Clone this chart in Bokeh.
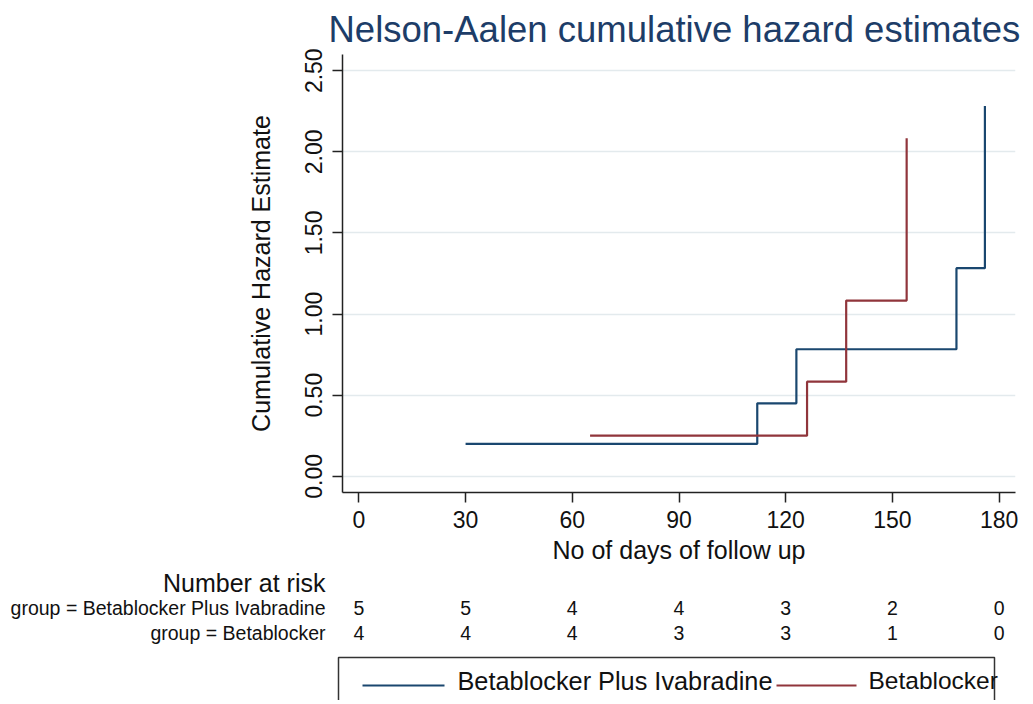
from bokeh.plotting import figure
from bokeh.models import Range1d, FixedTicker, NumeralTickFormatter
from bokeh.layouts import column
from bokeh.embed import file_html
from bokeh.resources import INLINE
from bokeh.core.properties import value

# ---------------- data ----------------
title_text = "Nelson-Aalen cumulative hazard estimates"
x_label = "No of days of follow up"
y_label = "Cumulative Hazard Estimate"
risk_title = "Number at risk"
group_names = ["Betablocker Plus Ivabradine", "Betablocker"]

bbi_time = [30, 112, 123, 168, 176]
bbi_hazard = [0.200, 0.450, 0.783, 1.283, 2.283]
bb_time = [65, 126, 137, 154]
bb_hazard = [0.250, 0.583, 1.083, 2.083]

risk_times = [0, 30, 60, 90, 120, 150, 180]
risk_bbi = [5, 5, 4, 4, 3, 2, 0]
risk_bb = [4, 4, 4, 3, 3, 1, 0]

x_ticks = [0, 30, 60, 90, 120, 150, 180]
y_ticks = [0.0, 0.5, 1.0, 1.5, 2.0, 2.5]

# ---------------- style ----------------
NAVY = "#1a476f"
TITLE_NAVY = "#1d3d68"
MAROON = "#90353b"
FONT = "Liberation Sans"
TXT = "#111111"

W = 1025
H1 = 566
H2 = 134
FL, FR = 342, 1015      # frame left/right (canvas px)
FT, FB = 54, 493        # frame top/bottom (canvas px)
X0, X1 = -4.6, 184.6
scale = (FR - FL) / (X1 - X0)

p = figure(width=W, height=H1, x_range=Range1d(X0, X1), y_range=Range1d(-0.1, 2.6),
           output_backend="svg", toolbar_location=None,
           min_border_left=FL, min_border_right=W - FR,
           min_border_top=FT, min_border_bottom=H1 - FB)
p.frame_align = False
p.title.text = title_text
p.title.align = "left"
p.title.offset = -14
p.title.text_font = FONT
p.title.text_font_size = "36.5px"
p.title.text_font_style = "normal"
p.title.text_color = TITLE_NAVY
p.title.standoff = 9
p.outline_line_color = None
p.background_fill_color = "white"
p.border_fill_color = "white"

p.xgrid.visible = False
p.ygrid.grid_line_color = "#e3eaed"
p.ygrid.grid_line_width = 1.5

p.xaxis.ticker = FixedTicker(ticks=x_ticks)
p.yaxis.ticker = FixedTicker(ticks=y_ticks)
p.yaxis.formatter = NumeralTickFormatter(format="0.00")
p.yaxis.major_label_orientation = "vertical"
for ax in (p.xaxis, p.yaxis):
    ax.axis_line_color = "#222222"
    ax.axis_line_width = 1.5
    ax.major_tick_line_color = "#222222"
    ax.major_tick_line_width = 1.5
    ax.major_tick_out = 10
    ax.major_tick_in = 0
    ax.minor_tick_line_color = None
    ax.major_label_text_font = FONT
    ax.major_label_text_font_size = "23px"
    ax.major_label_text_color = TXT
    ax.axis_label_text_font = FONT
    ax.axis_label_text_font_size = "25px"
    ax.axis_label_text_font_style = "normal"
    ax.axis_label_text_color = TXT
p.xaxis.axis_label = x_label
p.yaxis.axis_label = y_label
p.xaxis.major_label_standoff = 8
p.xaxis.axis_label_standoff = 5
p.yaxis.major_label_standoff = 10
p.yaxis.axis_label_standoff = 28

p.step(bbi_time, bbi_hazard, mode="after", line_color=NAVY, line_width=2.2)
p.step(bb_time, bb_hazard, mode="after", line_color=MAROON, line_width=2.2)

# ---------------- number-at-risk table + legend ----------------
Y_TOP = H1      # page y of the top of the table figure
TXT_SHIFT = 9   # text glyph baseline correction


def px2x(page_x):
    return X0 + (page_x - FL) / scale


def py(page_y):
    return page_y - Y_TOP


def ty(page_y):
    return page_y - Y_TOP - TXT_SHIFT


q = figure(width=W, height=H2,
           x_range=Range1d(X0 - FL / scale, X1 + (W - FR) / scale),
           y_range=Range1d(H2, 0),
           x_axis_type=None, y_axis_type=None,
           output_backend="svg", toolbar_location=None,
           min_border=0, min_border_left=0, min_border_right=0,
           min_border_top=0, min_border_bottom=0)
q.frame_align = False
q.grid.visible = False
q.outline_line_color = None
q.background_fill_color = "white"
q.border_fill_color = "white"

q.text(x=[px2x(325)], y=[ty(591)], text=[risk_title], text_font=value(FONT),
       text_font_size="25px", text_align="right", text_baseline="alphabetic", text_color=TXT)
q.text(x=[px2x(325)] * 2, y=[ty(616), ty(641)],
       text=["group = " + g for g in group_names], text_font=value(FONT),
       text_font_size="19.5px", text_align="right", text_baseline="alphabetic", text_color=TXT)
q.text(x=risk_times, y=[ty(616)] * len(risk_times), text=[str(v) for v in risk_bbi],
       text_font=value(FONT), text_font_size="19.5px", text_align="center",
       text_baseline="alphabetic", text_color=TXT)
q.text(x=risk_times, y=[ty(641)] * len(risk_times), text=[str(v) for v in risk_bb],
       text_font=value(FONT), text_font_size="19.5px", text_align="center",
       text_baseline="alphabetic", text_color=TXT)

# legend box
q.quad(left=[px2x(338)], right=[px2x(994)], top=[py(657)], bottom=[py(720)],
       fill_color="white", line_color="#333333", line_width=1.5)
q.line(x=[px2x(362), px2x(444)], y=[py(685), py(685)], line_color=NAVY, line_width=2)
q.text(x=[px2x(457)], y=[ty(689)], text=[group_names[0]], text_font=value(FONT),
       text_font_size="25.3px", text_align="left", text_baseline="alphabetic", text_color=TXT)
q.line(x=[px2x(776), px2x(856)], y=[py(685), py(685)], line_color=MAROON, line_width=2)
q.text(x=[px2x(868)], y=[ty(689)], text=[group_names[1]], text_font=value(FONT),
       text_font_size="24.5px", text_align="left", text_baseline="alphabetic", text_color=TXT)

layout = column(p, q, spacing=0)
open("out.html", "w").write(file_html(layout, INLINE))
